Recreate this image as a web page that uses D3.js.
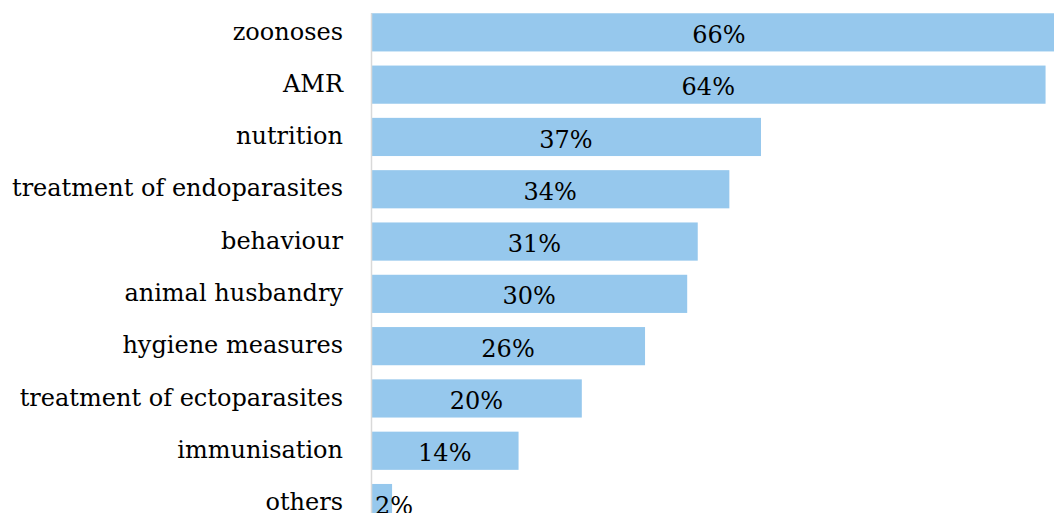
<!DOCTYPE html>
<html>
<head>
<meta charset="utf-8">
<script src="https://cdn.jsdelivr.net/npm/d3@7"></script>
<style>
body { margin: 0; background: #fff; }
svg { display: block; overflow: hidden; }
text { font-family: "DejaVu Serif", "Liberation Serif", serif; fill: #000; }
</style>
</head>
<body>
<script>
var width = 1054,
    height = 513;

var categories = ["zoonoses", "AMR", "nutrition", "treatment of endoparasites", "behaviour",
                  "animal husbandry", "hygiene measures", "treatment of ectoparasites", "immunisation", "others"];
var values = [66, 64, 37, 34, 31, 30, 26, 20, 14, 2];

var svg = d3.select("body").append("svg")
    .attr("width", width)
    .attr("height", height);

var x0 = 371;
var x = d3.scaleLinear().domain([0, 10]).range([x0, x0 + 105.4]);

var y = d3.scaleBand()
    .domain(categories)
    .range([6.2, 529.2])
    .paddingInner(0.27)
    .paddingOuter(0.135);

// bars
svg.selectAll("rect.bar")
    .data(values)
  .enter().append("rect")
    .attr("class", "bar")
    .attr("x", x(0))
    .attr("y", function(d, i) { return y(categories[i]); })
    .attr("width", function(d) { return x(d) - x(0); })
    .attr("height", y.bandwidth())
    .attr("fill", "#96c8ed");

// vertical axis line
svg.append("line")
    .attr("x1", x0 + 0.5).attr("x2", x0 + 0.5)
    .attr("y1", y(categories[0])).attr("y2", height)
    .attr("stroke", "#d9d9d9")
    .attr("stroke-width", 1.5);

// category labels
svg.selectAll("text.cat")
    .data(categories)
  .enter().append("text")
    .attr("class", "cat")
    .attr("x", 343)
    .attr("y", function(d) { return y(d) + y.bandwidth() / 2; })
    .attr("dy", "0.3em")
    .attr("text-anchor", "end")
    .style("font-size", "24px")
    .text(function(d) { return d; });

// value labels
svg.selectAll("text.val")
    .data(values)
  .enter().append("text")
    .attr("class", "val")
    .attr("y", function(d, i) { return y(categories[i]) + y.bandwidth() / 2; })
    .attr("dy", "0.44em")
    .attr("text-anchor", "middle")
    .style("font-size", "24px")
    .text(function(d) { return d + "%"; })
    .attr("x", function(d) {
      var w = this.getComputedTextLength();
      var c = (x(0) + x(d)) / 2;
      return Math.max(c, x(0) + 4 + w / 2);
    });
</script>
</body>
</html>
